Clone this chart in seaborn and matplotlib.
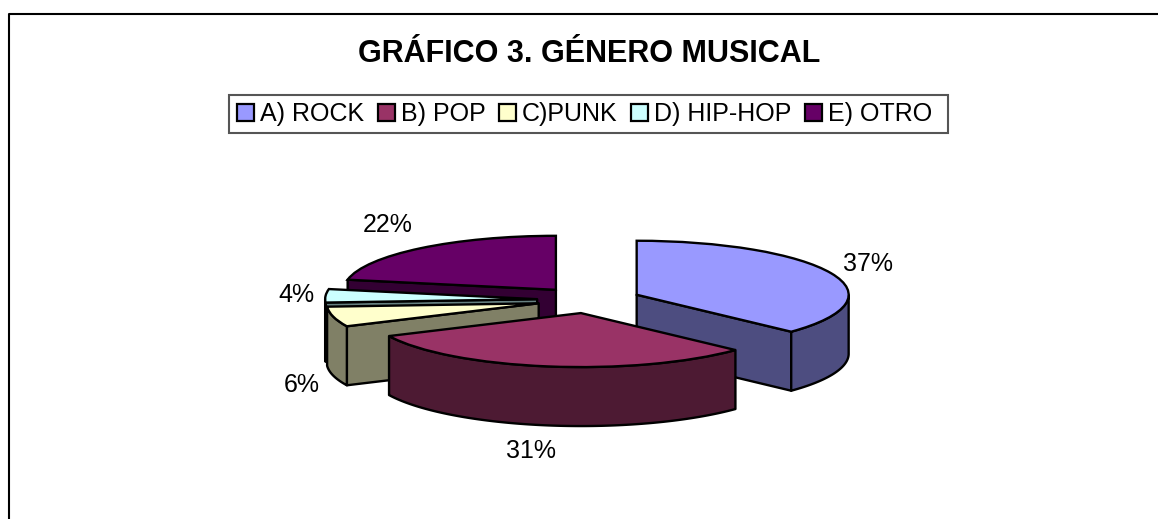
import numpy as np
import matplotlib
matplotlib.use('Agg')
import matplotlib.pyplot as plt
from matplotlib.lines import Line2D
from matplotlib.patches import Rectangle
import seaborn as sns

categories = ['A) ROCK', 'B) POP', 'C)PUNK', 'D) HIP-HOP', 'E) OTRO']
values = [37, 31, 6, 4, 22]
top_colors = ['#9999FF', '#993366', '#FFFFCC', '#CCFFFF', '#660066']
side_colors = ['#4D4D80', '#4D1A33', '#808066', '#668080', '#330033']

W, H = 1158, 519
# pie centre and ellipse radii in pixels
CX, CY, RX, RY = 589, 300, 212, 54
DEPTH = 59 / RY
LW = 1.7

sns.set_theme(style='white')
plt.rcParams['font.family'] = ['Liberation Sans', 'DejaVu Sans']

fig = plt.figure(figsize=(W / 100, H / 100), dpi=100, facecolor='white')
ax = fig.add_axes([0, 0, 1, 1])

wedges, _ = ax.pie(
    values,
    explode=[0.245] * len(values),
    colors=sns.color_palette(top_colors),
    startangle=90,
    counterclock=False,
    wedgeprops={'edgecolor': 'black', 'linewidth': LW},
)

# the pie squashed into an ellipse: one data unit is RX wide and RY tall
ax.set_aspect('auto')
ax.set_xlim(-CX / RX, (W - CX) / RX)
ax.set_ylim(-(H - CY) / RY, CY / RY)
ax.axis('off')


def side_faces(w, color, z):
    x0, y0 = w.center
    t1, t2 = w.theta1, w.theta2
    # radial cut faces, only if they look towards the viewer
    for t, normal in [(t1, t1 - 90), (t2, t2 + 90)]:
        if np.sin(np.radians(normal)) < -1e-6:
            rx = x0 + np.cos(np.radians(t))
            ry = y0 + np.sin(np.radians(t))
            ax.fill([x0, rx, rx, x0], [y0, ry, ry - DEPTH, y0 - DEPTH],
                    facecolor=color, edgecolor='black', lw=LW, zorder=z, joinstyle='round')
    # outer rim, front half of the arc
    th = np.radians(np.linspace(t1, t2, 300))
    th = th[np.sin(th) <= 0]
    if len(th) > 1:
        xs = x0 + np.cos(th)
        ys = y0 + np.sin(th)
        ax.fill(np.r_[xs, xs[::-1]], np.r_[ys, ys[::-1] - DEPTH],
                facecolor=color, edgecolor='black', lw=LW, zorder=z, joinstyle='round')


# back to front: OTRO, HIP-HOP, PUNK, ROCK, POP
draw_order = [4, 3, 2, 0, 1]
for rank, i in enumerate(draw_order):
    side_faces(wedges[i], side_colors[i], 2 + rank * 2)
    wedges[i].set_zorder(3 + rank * 2)

label_px = [(868, 264), (531, 451), (302, 385), (296, 295), (388, 225)]
for v, (px, py) in zip(values, label_px):
    fig.text(px / W, 1 - py / H, f'{v}%', fontsize=18, color='black', ha='center', va='center')

fig.text(589.5 / W, 1 - 62 / H, 'GRÁFICO 3. GÉNERO MUSICAL', fontsize=22, fontweight='bold',
         color='black', ha='center', va='baseline')

leg = fig.legend(
    wedges, categories, ncol=5, loc='upper left', bbox_to_anchor=(230 / W, 1 - 95 / H),
    fontsize=18, frameon=False,
    handlelength=0.68, handleheight=0.68, handletextpad=0.25, columnspacing=0.53,
    borderpad=0.275, borderaxespad=0, labelcolor='black',
)
for h in leg.legend_handles:
    h.set_edgecolor('black')
    h.set_linewidth(1.6)

# legend box is wider on the right than the entries need
fig.add_artist(Rectangle((229 / W, 1 - 132.5 / H), (948 - 229) / W, 37.5 / H, transform=fig.transFigure,
                         fill=False, edgecolor='#555555', linewidth=1.5))

# chart area border, only top and left reach into the image
border_x = np.array([8.5, 8.5, W + 5]) / W
border_y = 1 - np.array([H + 5, 13.5, 13.5]) / H
fig.add_artist(Line2D(border_x, border_y, transform=fig.transFigure, color='black', linewidth=1.5))

fig.savefig('out.png', dpi=100)
